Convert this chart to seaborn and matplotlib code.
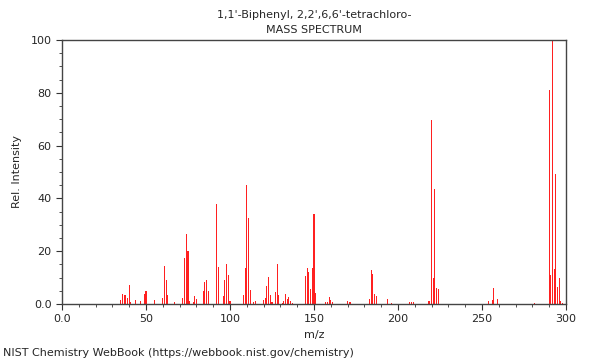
import matplotlib
matplotlib.use('Agg')

import pandas as pd
import matplotlib.pyplot as plt
import seaborn as sns
from matplotlib.ticker import MultipleLocator, FuncFormatter

# peaks (m/z, relative intensity)
mz = [35, 36, 37, 38, 39, 40, 41, 44, 47, 49, 50, 55, 60, 61, 62, 63, 67,
      72, 73, 74, 75, 76, 78, 79, 80, 84, 85, 86, 87, 92, 93, 96, 97, 98,
      99, 100, 108, 109, 110, 111, 112, 114, 115, 120, 121, 122, 123, 124,
      125, 127, 128, 129, 131, 132, 133, 134, 135, 136, 137, 145, 146, 147,
      148, 149, 150, 151, 157, 158, 159, 160, 161, 170, 171, 172, 183, 184,
      185, 186, 187, 194, 196, 207, 208, 209, 218, 219, 220, 221, 222, 223,
      224, 254, 256, 257, 259, 281, 290, 291, 292, 293, 294, 295, 296, 297,
      298]
intensity = [1.5, 3.8, 3.5, 3.3, 2.4, 7.1, 0.6, 1.4, 1.0, 3.7, 5.0, 1.4,
             2.3, 14.3, 9.2, 3.4, 0.8, 2.1, 17.4, 26.7, 20.2, 1.0, 0.9, 3.0,
             1.9, 5.1, 8.3, 9.0, 4.9, 37.9, 14.0, 3.0, 9.1, 15.3, 11.0, 1.0,
             3.4, 13.8, 45.0, 32.7, 5.3, 0.6, 1.1, 1.4, 2.3, 6.8, 10.2, 3.4,
             0.8, 4.5, 15.2, 3.4, 0.5, 1.0, 3.7, 1.9, 2.7, 1.0, 0.5, 10.5,
             13.8, 12.1, 5.7, 13.6, 34.1, 4.0, 0.6, 0.6, 2.7, 1.5, 0.6, 1.1,
             0.7, 0.7, 1.9, 12.9, 11.4, 3.8, 3.0, 1.9, 0.5, 0.7, 0.7, 0.6,
             1.0, 1.0, 69.7, 10.0, 43.6, 5.9, 5.7, 1.3, 1.4, 5.9, 1.9, 0.5,
             81.1, 11.0, 100.0, 13.3, 49.2, 6.4, 9.8, 1.0, 0.5]

title = "1,1'-Biphenyl, 2,2',6,6'-tetrachloro-\nMASS SPECTRUM"
footer = "NIST Chemistry WebBook (https://webbook.nist.gov/chemistry)"

df = pd.DataFrame({'mz': mz, 'intensity': intensity})

sns.set_style('white')
plt.rcParams['font.family'] = ['DejaVu Sans']

fig = plt.figure(figsize=(6, 3.6), dpi=100)
ax = fig.add_axes([62 / 600, 56 / 360, 504 / 600, 264 / 360])

sns.barplot(data=df, x='mz', y='intensity', native_scale=True,
            color='#ff2020', width=0.6, linewidth=0, saturation=1, ax=ax)

ax.set_xlim(0, 300)
ax.set_ylim(0, 100)
ax.xaxis.set_major_locator(MultipleLocator(50))
ax.xaxis.set_minor_locator(MultipleLocator(10))
ax.yaxis.set_major_locator(MultipleLocator(20))
ax.yaxis.set_minor_locator(MultipleLocator(5))
fmt = FuncFormatter(lambda v, p: '0.0' if v == 0 else f'{v:.0f}')
ax.xaxis.set_major_formatter(fmt)
ax.yaxis.set_major_formatter(fmt)
ax.tick_params(which='major', direction='out', length=4, width=0.8,
               labelsize=8, color='#333333', bottom=True, left=True)
ax.tick_params(which='minor', direction='out', length=2, width=0.6,
               color='#333333', bottom=True, left=True)
for s in ax.spines.values():
    s.set_color('#444444')
    s.set_linewidth(1)

ax.set_xlabel('m/z', fontsize=8, labelpad=4)
ax.set_ylabel('Rel. Intensity', fontsize=8, labelpad=6)
ax.set_title(title, fontsize=8, linespacing=1.6, pad=5)
fig.text(3 / 600, 1 - 353 / 360, footer, fontsize=8, ha='left', va='center')

plt.savefig('out.png', dpi=100)
plt.close()
